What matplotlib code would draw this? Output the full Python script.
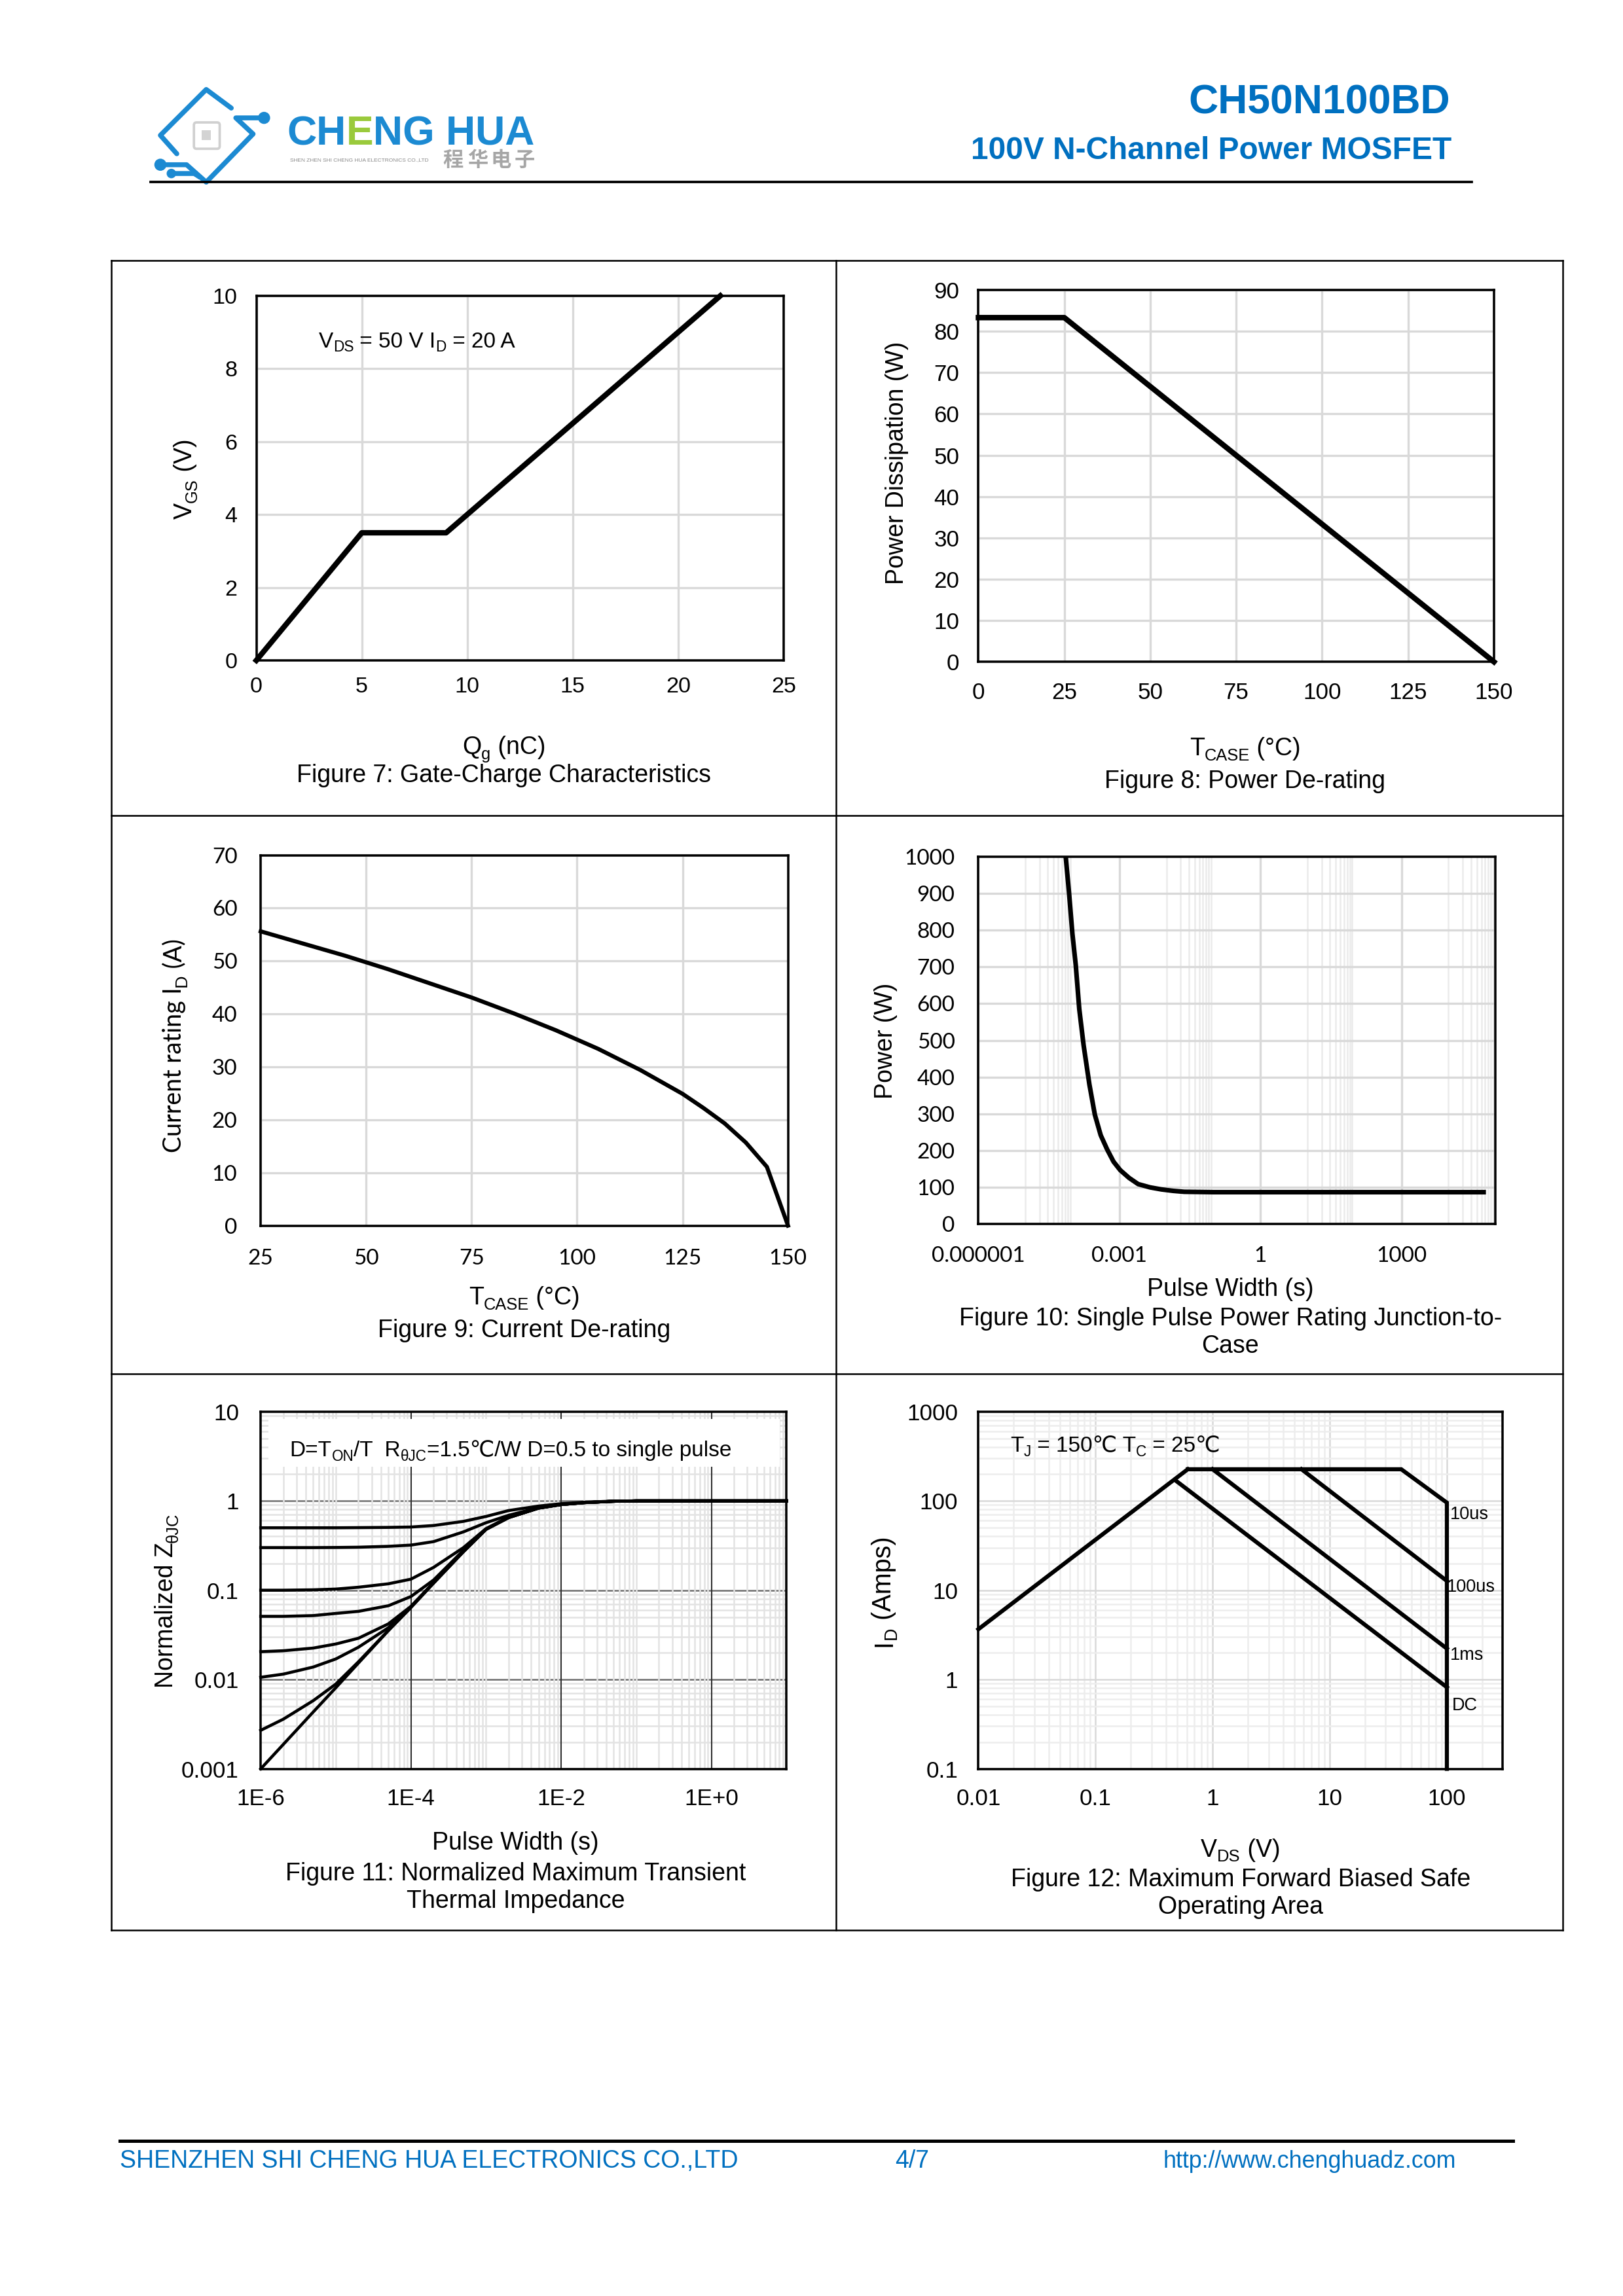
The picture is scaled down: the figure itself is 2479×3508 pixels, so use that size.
import matplotlib
matplotlib.use("Agg")
import matplotlib.pyplot as plt
from matplotlib.lines import Line2D
from matplotlib.patches import Rectangle, Circle, FancyBboxPatch
from matplotlib.ticker import NullLocator

plt.rcParams["font.family"] = ["Liberation Sans", "DejaVu Sans"]

# Figure 7: gate charge
qg_nc = [0, 5, 9, 22]
vgs_v = [0, 3.5, 3.5, 10]

# Figure 8: power de-rating
tcase_pd = [0, 25, 150]
pd_w = [83.3, 83.3, 0]

# Figure 9: current de-rating
tcase_id = [25, 35, 45, 55, 65, 75, 85, 95, 105, 115, 125, 130, 135, 140, 145, 150]
id_a = [55.6, 53.3, 51.0, 48.5, 45.8, 43.1, 40.1, 36.9, 33.4, 29.4, 24.9, 22.2, 19.3, 15.7, 11.1, 0]

# Figure 10: single pulse power
pulse_s = [7.2e-5, 8.5e-5, 1.0e-4, 1.18e-4, 1.4e-4, 1.73e-4, 2.3e-4, 3.0e-4, 4.0e-4,
           5.5e-4, 7.5e-4, 1.04e-3, 1.6e-3, 2.5e-3, 4.5e-3, 7.8e-3, 1.4e-2, 2.4e-2,
           1e-1, 1, 10, 100, 1000, 1e4, 5.6e4]
pulse_w = [1000, 900, 790, 704, 585, 487, 380, 298, 242, 203, 170, 147, 126, 109, 100,
           94.5, 90.5, 88, 87, 87, 87, 87, 87, 87, 87]

# Figure 11: normalized transient thermal impedance
zth_t = [1e-6, 2e-6, 5e-6, 1e-5, 2e-5, 5e-5, 1e-4, 2e-4, 5e-4, 1e-3, 2e-3, 5e-3,
         1e-2, 2e-2, 5e-2, 1e-1, 10]
zth_single = [0.001, 0.00188, 0.00433, 0.0081, 0.0153, 0.0352, 0.064, 0.12, 0.27, 0.48,
              0.65, 0.83, 0.91, 0.955, 0.99, 1.0, 1.0]
zth_d002 = [0.0027, 0.0036, 0.0058, 0.0089, 0.0158, 0.0355, 0.0645, 0.12, 0.27, 0.48,
            0.65, 0.83, 0.91, 0.955, 0.99, 1.0, 1.0]
zth_d01 = [0.0106, 0.0115, 0.0138, 0.017, 0.023, 0.038, 0.065, 0.121, 0.271, 0.481,
           0.651, 0.83, 0.91, 0.955, 0.99, 1.0, 1.0]
zth_d02 = [0.0205, 0.021, 0.0225, 0.025, 0.029, 0.042, 0.066, 0.122, 0.272, 0.482,
           0.652, 0.831, 0.91, 0.955, 0.99, 1.0, 1.0]
zth_d05 = [0.051, 0.051, 0.052, 0.055, 0.058, 0.067, 0.085, 0.13, 0.28, 0.485,
           0.655, 0.832, 0.911, 0.955, 0.99, 1.0, 1.0]
zth_d1 = [0.1, 0.1, 0.101, 0.103, 0.108, 0.118, 0.133, 0.18, 0.30, 0.49,
          0.66, 0.835, 0.912, 0.956, 0.99, 1.0, 1.0]
zth_d3 = [0.3, 0.3, 0.3, 0.301, 0.303, 0.31, 0.32, 0.35, 0.45, 0.57,
          0.69, 0.84, 0.915, 0.957, 0.99, 1.0, 1.0]
zth_d5 = [0.5, 0.5, 0.5, 0.5, 0.502, 0.505, 0.51, 0.53, 0.59, 0.67,
          0.78, 0.875, 0.93, 0.965, 0.995, 1.0, 1.0]
zth_curves = [zth_d5, zth_d3, zth_d1, zth_d05, zth_d02, zth_d01, zth_d002, zth_single]

# Figure 12: safe operating area
soa_rds_v, soa_rds_i = [0.01, 0.613], [3.66, 226]
soa_10us_v, soa_10us_i = [0.613, 40.8, 100, 100], [226, 226, 95.5, 0.1]
soa_100us_v, soa_100us_i = [5.74, 100], [226, 12.7]
soa_1ms_v, soa_1ms_i = [1.0, 100], [226, 2.22]
soa_dc_v, soa_dc_i = [0.475, 100], [172, 0.82]
soa_labels = ["10us", "100us", "1ms", "DC"]
soa_label_v = [106, 100, 106, 110]
soa_label_i = [70, 10.8, 1.86, 0.51]

BLUE = "#0070C0"
GRID = "#D9D9D9"

fig = plt.figure(figsize=(2479 / 300, 3508 / 300), dpi=300)
PW, PH = 1108.1, 1568.0  # layout measured on a 1108 x 1568 view of the page


def fx(x):
    return x / PW


def fy(y):
    return 1 - y / PH


def add_axes_px(x0, y0, x1, y1):
    return fig.add_axes([fx(x0), fy(y1), fx(x1) - fx(x0), fy(y0) - fy(y1)])


renderer = fig.canvas.get_renderer()


def adv_width(s, size, **kw):
    t = fig.text(0, 0, "|" + s + "|", fontsize=size, **kw)
    w1 = t.get_window_extent(renderer).width
    t.set_text("||")
    w2 = t.get_window_extent(renderer).width
    t.remove()
    return w1 - w2


def rich_text(x, y, parts, size, ha="left", rotation=0, **kw):
    # parts: (text, is_subscript); y is the centre of the capitals
    W, H = fig.bbox.width, fig.bbox.height
    scale = fig.dpi / 72
    sizes = [size * 0.68 if sub else size for _, sub in parts]
    widths = [adv_width(s, fs, **kw) for (s, _), fs in zip(parts, sizes)]
    total = sum(widths)
    pos = -{"left": 0, "center": total / 2, "right": total}[ha]
    half_cap = 0.36 * size * scale
    drop = 0.2 * size * scale
    X, Y = fx(x) * W, fy(y) * H
    for (s, sub), fs, w in zip(parts, sizes, widths):
        d = drop if sub else 0
        if rotation == 0:
            px, py = X + pos, Y - half_cap - d
        else:
            px, py = X + half_cap + d, Y + pos
        fig.text(px / W, py / H, s, fontsize=fs, rotation=rotation, ha="left",
                 va="baseline", rotation_mode="anchor", **kw)
        pos += w


def caption(x, y, s, size=9, **kw):
    rich_text(x, y, [(s, 0)], size, ha="center", **kw)


def axes_to_px(ax, ax_x, ax_y):
    X, Y = ax.transAxes.transform((ax_x, ax_y))
    return X / fig.bbox.width * PW, (1 - Y / fig.bbox.height) * PH


def style(ax, xpad, ypad, size=8.2):
    for sp in ax.spines.values():
        sp.set_linewidth(0.85)
        sp.set_color("black")
        sp.set_zorder(5)
    ax.tick_params(which="both", length=0, labelsize=size)
    ax.tick_params(axis="x", pad=xpad)
    ax.tick_params(axis="y", pad=ypad)


def line(x0, y0, x1, y1, lw=0.6, color="black"):
    fig.add_artist(Line2D([fx(x0), fx(x1)], [fy(y0), fy(y1)], transform=fig.transFigure,
                          color=color, lw=lw))


# ---------------- header ----------------
fig.text(fx(990), fy(70), "CH50N100BD", fontsize=15, fontweight="bold", color=BLUE,
         ha="right", va="center")
fig.text(fx(991), fy(103), "100V N-Channel Power MOSFET", fontsize=11.5, fontweight="bold",
         color=BLUE, ha="right", va="center")
line(103, 124.4, 1005, 124.4, lw=0.9)

# logo
lax = add_axes_px(100, 50, 370, 130)
lax.set_xlim(100, 370)
lax.set_ylim(130, 50)
lax.axis("off")
LB = "#1C8AD2"
lkw = dict(color=LB, lw=1.8, solid_capstyle="round", solid_joinstyle="round")
lax.plot([120.7, 109.5, 140.8, 157.9], [105.0, 92.4, 61.1, 73.8], **lkw)
lax.plot([180.3, 161, 172.8, 140.8, 127.4, 109.5], [80.5, 80.5, 91.5, 124.4, 112.5, 112.5], **lkw)
lax.plot([117.0, 132.6, 136.5], [118.5, 118.5, 121.0], **lkw)
for cx, cy, r in [(180.3, 80.5, 3.2), (109.5, 112.5, 3.2), (117.0, 118.5, 2.3)]:
    lax.add_patch(Circle((cx, cy), r, color=LB))
lax.add_patch(FancyBboxPatch((132.4, 83.6), 17.6, 18, boxstyle="round,pad=0,rounding_size=1.8",
                             facecolor="white", edgecolor="#D0D0D0", lw=0.9))
lax.add_patch(Rectangle((137.5, 89.1), 6.6, 6.6, facecolor="#D3D3D3", edgecolor="none"))

logo_parts = [("CH", LB), ("E", "#9ACA3C"), ("NG HUA", LB)]
lx = 195.9
for s, c in logo_parts:
    fig.text(fx(lx), fy(98.9), s, color=c, fontsize=15, fontweight="bold", ha="left",
             va="baseline")
    lx += adv_width(s, 15, fontweight="bold") / fig.bbox.width * PW
fig.text(fx(198), fy(109.5), "SHEN ZHEN SHI CHENG HUA ELECTRONICS CO.,LTD", fontsize=2.0,
         color="#8A8A8A", ha="left", va="center")
for ch, cx in zip("程华电子", [309.5, 326, 342, 358]):
    fig.text(fx(cx), fy(109.3), ch, fontsize=7.5, fontweight="bold", color="#A6A6A6",
             family=["Noto Sans CJK SC"], ha="center", va="center")

# ---------------- outer frame ----------------
line(76, 178, 1067, 178)
line(76, 1318, 1067, 1318)
line(76, 178, 76, 1318)
line(1067, 178, 1067, 1318)
line(571, 178, 571, 1318)
line(76, 557, 1067, 557)
line(76, 938, 1067, 938)

# ---------------- Figure 7 ----------------
ax7 = add_axes_px(175, 202, 535, 451)
ax7.plot(qg_nc, vgs_v, color="black", lw=2.0, clip_on=False, zorder=6)
ax7.set_xlim(0, 25)
ax7.set_ylim(0, 10)
ax7.set_xticks([0, 5, 10, 15, 20, 25])
ax7.set_yticks([0, 2, 4, 6, 8, 10])
ax7.grid(True, color=GRID, lw=0.8)
ax7.set_axisbelow(True)
style(ax7, 6, 7)
px, py = axes_to_px(ax7, 0.118, 0.88)
rich_text(px, py, [("V", 0), ("DS", 1), (" = 50 V I", 0), ("D", 1), (" = 20 A", 0)], 8)
rich_text(125, 327, [("V", 0), ("GS", 1), (" (V)", 0)], 9, ha="center", rotation=90)
rich_text(344, 509, [("Q", 0), ("g", 1), (" (nC)", 0)], 9, ha="center")
caption(344, 528, "Figure 7: Gate-Charge Characteristics")

# ---------------- Figure 8 ----------------
ax8 = add_axes_px(668, 198, 1020, 452)
ax8.plot(tcase_pd, pd_w, color="black", lw=2.0, clip_on=False, zorder=6)
ax8.set_xlim(0, 150)
ax8.set_ylim(0, 90)
ax8.set_xticks([0, 25, 50, 75, 100, 125, 150])
ax8.set_yticks(range(0, 91, 10))
ax8.grid(True, color=GRID, lw=0.8)
ax8.set_axisbelow(True)
style(ax8, 7.5, 7, size=8.4)
rich_text(611, 316, [("Power Dissipation (W)", 0)], 9, ha="center", rotation=90)
rich_text(850, 510, [("T", 0), ("CASE", 1), (" (°C)", 0)], 9, ha="center")
caption(850, 532, "Figure 8: Power De-rating")

# ---------------- Figure 9 ----------------
ax9 = add_axes_px(178, 584, 538, 837)
ax9.plot(tcase_id, id_a, color="black", lw=1.5, clip_on=False, zorder=6)
ax9.set_xlim(25, 150)
ax9.set_ylim(0, 70)
ax9.set_xticks([25, 50, 75, 100, 125, 150])
ax9.set_yticks(range(0, 71, 10))
ax9.grid(True, color=GRID, lw=0.8)
ax9.set_axisbelow(True)
style(ax9, 8.6, 8.6, size=8)
for lab in ax9.get_xticklabels() + ax9.get_yticklabels():
    lab.set_fontfamily(["Lato", "DejaVu Sans"])
rich_text(118, 714, [("Current rating I", 0), ("D", 1), (" (A)", 0)], 9, ha="center",
          rotation=90, family=["Lato", "DejaVu Sans"])
rich_text(358, 885, [("T", 0), ("CASE", 1), (" (°C)", 0)], 9, ha="center")
caption(358, 907, "Figure 9: Current De-rating")

# ---------------- Figure 10 ----------------
ax10 = add_axes_px(668, 585, 1021, 836)
ax10.set_xscale("log")
ax10.set_xlim(1e-6, 1e5)
ax10.set_ylim(0, 1000)
for e in [-6, -3, 0, 3]:
    ax10.axvline(10.0 ** e, color=GRID, lw=0.8, zorder=1)
    for k in range(1, 10):
        ax10.axvline(k * 10.0 ** (e + 1), color="#EBEBEB", lw=0.6, zorder=0.9)
for yv in range(100, 1000, 100):
    ax10.axhline(yv, color=GRID, lw=0.8, zorder=1.1)
ax10.plot(pulse_s, pulse_w, color="black", lw=1.7, zorder=6)
ax10.set_xticks([1e-6, 1e-3, 1, 1e3], ["0.000001", "0.001", "1", "1000"])
ax10.xaxis.set_minor_locator(NullLocator())
ax10.set_yticks(range(0, 1001, 100))
style(ax10, 8, 8.6, size=8)
for lab in ax10.get_xticklabels() + ax10.get_yticklabels():
    lab.set_fontfamily(["Lato", "DejaVu Sans"])
rich_text(603, 711, [("Power (W)", 0)], 9, ha="center", rotation=90)
caption(840, 879, "Pulse Width (s)")
caption(840, 899, "Figure 10: Single Pulse Power Rating Junction-to-")
caption(840, 918, "Case")

# ---------------- Figure 11 ----------------
ax11 = add_axes_px(178, 964, 537, 1208)
ax11.set_xscale("log")
ax11.set_yscale("log")
ax11.set_xlim(1e-6, 10)
ax11.set_ylim(1e-3, 10)
for yv in [1e-2, 1e-1, 1]:
    ax11.axhline(yv, color="#707070", lw=0.6, zorder=0.5)
for e in range(-3, 1):
    for k in range(2, 10):
        ax11.axhline(k * 10.0 ** e, color="#E3E3E3", lw=0.6, zorder=0.4)
for e in range(-6, 1):
    for k in range(1, 10):
        if k == 1 and e % 2 == 0:
            continue
        ax11.axvline(k * 10.0 ** e, color="#E3E3E3", lw=0.6, zorder=0.6)
for xv in [1e-4, 1e-2, 1]:
    ax11.axvline(xv, color="#303030", lw=0.5, zorder=0.7)
ax11.add_patch(Rectangle((0.015, 0.845), 0.972, 0.135, transform=ax11.transAxes,
                         facecolor="white", edgecolor="none", zorder=2))
for z in zth_curves:
    ax11.plot(zth_t, z, color="black", lw=1.1, zorder=6, clip_on=False)
ax11.set_xticks([1e-6, 1e-4, 1e-2, 1], ["1E-6", "1E-4", "1E-2", "1E+0"])
ax11.set_yticks([1e-3, 1e-2, 1e-1, 1, 10], ["0.001", "0.01", "0.1", "1", "10"])
ax11.xaxis.set_minor_locator(NullLocator())
ax11.yaxis.set_minor_locator(NullLocator())
style(ax11, 7, 8, size=8.4)
px, py = axes_to_px(ax11, 0.055, 0.897)
rich_text(px, py, [("D=T", 0), ("ON", 1), ("/T  R", 0), ("θJC", 1),
                   ("=1.5℃/W D=0.5 to single pulse", 0)], 8)
rich_text(112, 1093, [("Normalized Z", 0), ("θJC", 1)], 9, ha="center", rotation=90)
caption(352, 1257, "Pulse Width (s)")
caption(352, 1278, "Figure 11: Normalized Maximum Transient")
caption(352, 1297, "Thermal Impedance")

# ---------------- Figure 12 ----------------
ax12 = add_axes_px(668, 964, 1026, 1208)
ax12.set_xscale("log")
ax12.set_yscale("log")
ax12.set_xlim(0.01, 300)
ax12.set_ylim(0.1, 1000)
for e in range(-2, 3):
    for k in range(1, 10):
        ax12.axvline(k * 10.0 ** e, color=GRID if k == 1 else "#EDEDED", lw=0.6, zorder=0.5)
for e in range(-1, 3):
    for k in range(1, 10):
        ax12.axhline(k * 10.0 ** e, color=GRID if k == 1 else "#EDEDED", lw=0.6, zorder=0.5)
for v, i in [(soa_rds_v, soa_rds_i), (soa_10us_v, soa_10us_i), (soa_100us_v, soa_100us_i),
             (soa_1ms_v, soa_1ms_i), (soa_dc_v, soa_dc_i)]:
    ax12.plot(v, i, color="black", lw=1.5, zorder=6, clip_on=False, solid_joinstyle="miter")
for lab, v, i in zip(soa_labels, soa_label_v, soa_label_i):
    ax12.text(v, i, lab, fontsize=6.5, ha="left", va="center", zorder=7)
ax12.set_xticks([0.01, 0.1, 1, 10, 100], ["0.01", "0.1", "1", "10", "100"])
ax12.set_yticks([0.1, 1, 10, 100, 1000], ["0.1", "1", "10", "100", "1000"])
ax12.xaxis.set_minor_locator(NullLocator())
ax12.yaxis.set_minor_locator(NullLocator())
style(ax12, 7, 7.5, size=8.4)
px, py = axes_to_px(ax12, 0.061, 0.91)
rich_text(px, py, [("T", 0), ("J", 1), (" = 150℃ T", 0), ("C", 1), (" = 25℃", 0)], 8)
rich_text(602, 1087, [("I", 0), ("D", 1), (" (Amps)", 0)], 9.5, ha="center", rotation=90)
rich_text(847, 1262, [("V", 0), ("DS", 1), (" (V)", 0)], 9, ha="center")
caption(847, 1282, "Figure 12: Maximum Forward Biased Safe")
caption(847, 1301, "Operating Area")

# ---------------- footer ----------------
line(82, 1462, 1033, 1462, lw=1.2)
fig.text(fx(82), fy(1476), "SHENZHEN SHI CHENG HUA ELECTRONICS CO.,LTD", fontsize=9,
         color=BLUE, ha="left", va="center")
fig.text(fx(611), fy(1476), "4/7", fontsize=9, color=BLUE, ha="left", va="center")
fig.text(fx(794), fy(1476), "http://www.chenghuadz.com", fontsize=8.6, color=BLUE,
         ha="left", va="center")

fig.savefig("out.png", dpi=300)
